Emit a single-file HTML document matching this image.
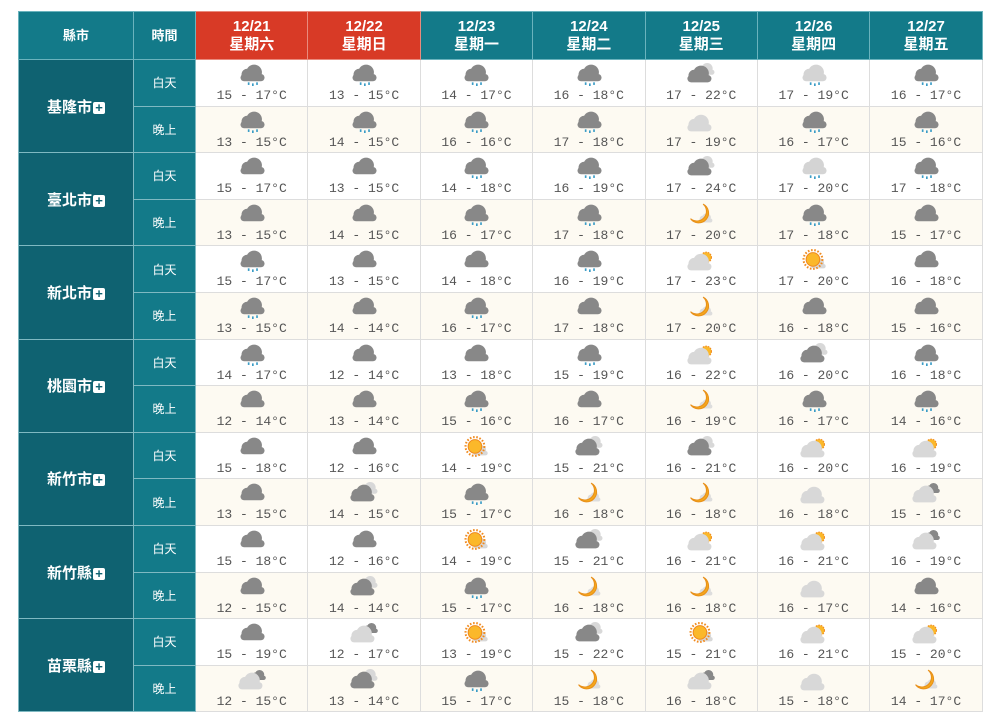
<!DOCTYPE html>
<html><head><meta charset="utf-8">
<style>
body{margin:0;background:#fff;width:996px;height:727px;overflow:hidden;font-family:"Liberation Sans","Noto Sans CJK TC",sans-serif}
table{position:absolute;left:18px;top:11px;border-collapse:collapse;table-layout:fixed;width:964px}
td,th{padding:0;text-align:center}
th{background:#137a89;color:#fff;font-weight:bold;font-size:13px;height:47px;border:1px solid #6ab3bd;line-height:18px}
th.d{font-size:15px}
th.r{background:#d83a26;border-color:#e98a7d}
td.c{background:#0f6271;color:#fff;font-weight:bold;font-size:15px;border:1px solid #7fb9c2}
td.t{background:#137a89;color:#fff;font-size:12px;border:1px solid #7fb9c2}
td.w{border:1px solid #ddd;height:45.6px;font-family:"Liberation Mono",monospace;font-size:13px;color:#555;vertical-align:top;line-height:16px}
tr.n td.w{background:#fdfaf2}
td.w svg{display:block;margin:3px auto 2px;width:32px;height:23px}
.p{display:inline-block;width:12px;height:12px;background:#fff;color:#0f6271;border-radius:2px;font-size:13px;line-height:12px;font-weight:bold;vertical-align:0px;margin-left:1px}
</style></head><body>
<svg width="0" height="0" style="position:absolute">
<defs>
<g id="cl"><circle cx="10.5" cy="11" r="5.5"/><circle cx="17" cy="9" r="7.5"/><rect x="4" y="10.5" width="23" height="7" rx="3.5"/></g>
<symbol id="R" viewBox="0 0 30 22"><use href="#cl" fill="#888"/><g fill="#3a9cc6"><rect x="11" y="18.5" width="1.6" height="2.5"/><rect x="15" y="19.5" width="1.6" height="2.5"/><rect x="19" y="18.5" width="1.6" height="2.5"/></g></symbol>
<symbol id="LR" viewBox="0 0 30 22"><use href="#cl" fill="#d4d4d4"/><g fill="#3a9cc6"><rect x="11" y="18.5" width="1.6" height="2.5"/><rect x="15" y="19.5" width="1.6" height="2.5"/><rect x="19" y="18.5" width="1.6" height="2.5"/></g></symbol>
<symbol id="C" viewBox="0 0 30 22"><use href="#cl" fill="#888"/></symbol>
<symbol id="P" viewBox="0 0 30 22"><g transform="translate(9,-1) scale(.7)"><use href="#cl" fill="#d8d8d8"/></g><use href="#cl" fill="#888" transform="translate(-2,1)"/></symbol>
<symbol id="L" viewBox="0 0 30 22"><g transform="translate(12,0) scale(.6)"><use href="#cl" fill="#888"/></g><use href="#cl" fill="#d8d8d8" transform="translate(-2,2)"/></symbol>
<symbol id="S" viewBox="0 0 30 22"><use href="#cl" fill="#d8d8d8" transform="translate(10,8) scale(.6)"/><circle cx="14" cy="10" r="9" fill="none" stroke="#f08a1e" stroke-width="2" stroke-dasharray="1.5 1.6"/><circle cx="14" cy="10" r="6.5" fill="#fbb82a" stroke="#f08a1e"/></symbol>
<symbol id="SC" viewBox="0 0 30 22"><circle cx="20" cy="8" r="5" fill="#fbb82a" stroke="#f08a1e" stroke-dasharray="1.5 1"/><use href="#cl" fill="#d8d8d8" transform="translate(-2,3)"/></symbol>
<symbol id="M" viewBox="0 0 30 22"><use href="#cl" fill="#ddd" transform="translate(11,9) scale(.55)"/><path d="M17 1 A9.5 9.5 0 1 1 5 15 A8 8 0 0 0 17 1Z" fill="#f5a81c" stroke="#e8901a"/></symbol>
<symbol id="MC" viewBox="0 0 30 22"><path d="M20 1 A6.5 6.5 0 1 1 20 14 A6 6 0 0 0 20 1Z" fill="#f5a81c"/><use href="#cl" fill="#d8d8d8" transform="translate(-2,3)"/></symbol>
</defs></svg>
<table>
<colgroup><col style="width:115px"><col style="width:62px"><col span="7" style="width:112.4px"></colgroup>
<tr><th>縣市</th><th>時間</th><th class="d r">12/21<br>星期六</th><th class="d r">12/22<br>星期日</th><th class="d">12/23<br>星期一</th><th class="d">12/24<br>星期二</th><th class="d">12/25<br>星期三</th><th class="d">12/26<br>星期四</th><th class="d">12/27<br>星期五</th></tr>
<tbody id="b"></tbody>
</table>
<script>
var D=[["基隆市",
"R 15 17|R 13 15|R 14 17|R 16 18|P 17 22|LR 17 19|R 16 17",
"R 13 15|R 14 15|R 16 16|R 17 18|MC 17 19|R 16 17|R 15 16"],
["臺北市","C 15 17|C 13 15|R 14 18|R 16 19|P 17 24|LR 17 20|R 17 18",
"C 13 15|C 14 15|R 16 17|R 17 18|M 17 20|R 17 18|C 15 17"],
["新北市","R 15 17|C 13 15|C 14 18|R 16 19|SC 17 23|S 17 20|C 16 18",
"R 13 15|C 14 14|R 16 17|C 17 18|M 17 20|C 16 18|C 15 16"],
["桃園市","R 14 17|C 12 14|C 13 18|R 15 19|SC 16 22|P 16 20|R 16 18",
"C 12 14|C 13 14|R 15 16|C 16 17|M 16 19|R 16 17|R 14 16"],
["新竹市","C 15 18|C 12 16|S 14 19|P 15 21|P 16 21|SC 16 20|SC 16 19",
"C 13 15|P 14 15|R 15 17|M 16 18|M 16 18|MC 16 18|L 15 16"],
["新竹縣","C 15 18|C 12 16|S 14 19|P 15 21|SC 16 21|SC 16 21|L 16 19",
"C 12 15|P 14 14|R 15 17|M 16 18|M 16 18|MC 16 17|C 14 16"],
["苗栗縣","C 15 19|L 12 17|S 13 19|P 15 22|S 15 21|SC 16 21|SC 15 20",
"L 12 15|P 13 14|R 15 17|M 15 18|L 16 18|MC 15 18|M 14 17"]];
var h="";
D.forEach(function(c){
 [1,2].forEach(function(k){
  h+='<tr'+(k==2?' class="n"':'')+'>';
  if(k==1)h+='<td class="c" rowspan="2">'+c[0]+'<span class="p">+</span></td>';
  h+='<td class="t">'+(k==1?'白天':'晚上')+'</td>';
  c[k].split('|').forEach(function(s){var a=s.split(' ');
   h+='<td class="w"><svg><use href="#'+a[0]+'"/></svg>'+a[1]+' - '+a[2]+'°C</td>';});
  h+='</tr>';
 });
});
document.getElementById('b').innerHTML=h;
</script>
</body></html>
